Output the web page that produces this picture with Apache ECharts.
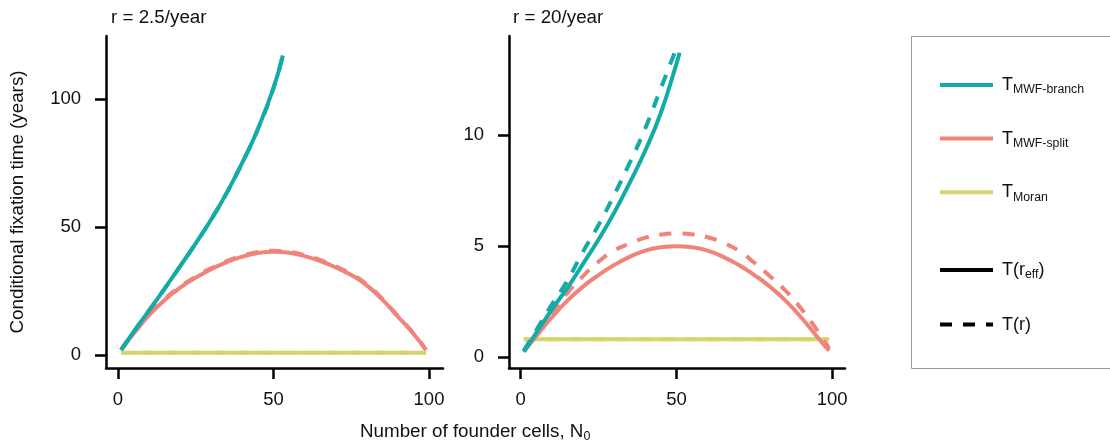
<!DOCTYPE html>
<html>
<head>
<meta charset="utf-8">
<script src="https://cdn.jsdelivr.net/npm/echarts@6/dist/echarts.min.js"></script>
<style>
  html, body { margin: 0; padding: 0; background: #fff; }
  #main { width: 1110px; height: 445px; }
</style>
</head>
<body>
<div id="main"></div>
<script>
// panel 1: r = 2.5/year
var nBranchSlow = [1, 5, 10, 15, 20, 25, 30, 35, 40, 45, 50, 53];
var branchSlowEff = [2, 9, 17.4, 25.9, 34.7, 43.6, 53, 63.4, 75.2, 88.3, 104.3, 117];
var branchSlowR = [2, 9, 17.4, 25.9, 34.7, 43.6, 53, 63.4, 75.2, 88.3, 104.3, 117];
var nSplit = [1, 5, 10, 15, 20, 25, 30, 35, 40, 45, 50, 55, 60, 65, 70, 75, 80, 85, 90, 95, 99];
var splitSlowEff = [2, 8.3, 15.5, 21.5, 26.3, 30.2, 33.5, 36.3, 38.4, 39.8, 40.3, 39.9, 38.6, 36.7, 34.2, 31.2, 27.2, 21.6, 15, 8.3, 2];
var splitSlowR = [2, 8.4, 15.8, 21.9, 26.7, 30.6, 33.9, 36.7, 38.8, 40.2, 40.7, 40.3, 39, 37.1, 34.6, 31.6, 27.6, 21.9, 15.2, 8.4, 2];
var nMoran = [1, 99];
var moranSlow = [0.9, 0.9];

// panel 2: r = 20/year
var nBranchFastEff = [1, 5, 10, 15, 20, 25, 30, 35, 40, 45, 50, 51];
var branchFastEff = [0.25, 1.1, 2.15, 3.12, 4.2, 5.3, 6.5, 7.85, 9.3, 11.0, 13.2, 13.7];
var nBranchFastR = [1, 5, 10, 15, 20, 25, 30, 35, 40, 45, 50];
var branchFastR = [0.3, 1.22, 2.37, 3.45, 4.75, 5.95, 7.3, 8.75, 10.3, 12.1, 13.9];
var splitFastEff = [0.25, 0.95, 1.8, 2.55, 3.18, 3.7, 4.15, 4.52, 4.8, 4.95, 5.0, 4.95, 4.8, 4.52, 4.15, 3.7, 3.18, 2.55, 1.8, 0.95, 0.3];
var splitFastR = [0.3, 1.0, 2.0, 2.9, 3.65, 4.3, 4.8, 5.12, 5.38, 5.52, 5.57, 5.53, 5.4, 5.15, 4.8, 4.25, 3.65, 3.0, 2.2, 1.25, 0.4];
var moranFast = [0.81, 0.81];

var xTicks = [0, 50, 100];
var yTicksSlow = [0, 50, 100];
var yTicksFast = [0, 5, 10];

var FONT = '"Liberation Sans", Arial, sans-serif';
var TEAL = '#13aba6', SALMON = '#f0847b', OLIVE = '#d5d56b';
var DASH = [12, 11];

function pairs(xs, ys) {
  return xs.map(function (x, i) { return [x, ys[i]]; });
}

function axis(gridIndex, min, max, ticks, margin) {
  return {
    type: 'value', gridIndex: gridIndex, min: min, max: max,
    axisLine: { show: true, onZero: false, lineStyle: { color: '#000', width: 2.5 } },
    axisTick: { show: true, length: 11, customValues: ticks, lineStyle: { color: '#000', width: 2.5 } },
    axisLabel: { customValues: ticks, margin: margin, fontSize: 18.5, color: '#111', fontFamily: FONT },
    splitLine: { show: false }
  };
}

function line(name, idx, data, color, dashed) {
  return {
    name: name, type: 'line', xAxisIndex: idx, yAxisIndex: idx,
    data: data, symbol: 'none', smooth: 0.5, silent: true,
    lineStyle: { color: color, width: 4, type: dashed ? DASH : 'solid' },
    itemStyle: { color: color }
  };
}

var labels = {
  branch: '{t|T}{s|MWF-branch}',
  split: '{t|T}{s|MWF-split}',
  moran: '{t|T}{s|Moran}',
  reff: '{t|T(r}{s|eff}{t|)}',
  r: '{t|T(r)}'
};
var legendRich = {
  t: { fontSize: 18, lineHeight: 22, color: '#111', fontFamily: FONT },
  s: { fontSize: 12.3, lineHeight: 12, verticalAlign: 'bottom', color: '#111', fontFamily: FONT }
};
var textFont = { fontSize: 18.8, fontWeight: 'normal', color: '#111', fontFamily: FONT };

var chart = echarts.init(document.getElementById('main'));
chart.setOption({
  animation: false,
  title: [
    { text: 'r = 2.5/year', left: 111, top: 8, padding: 0, textStyle: textFont },
    { text: 'r = 20/year', left: 513, top: 8, padding: 0, textStyle: textFont },
    { text: '{a|Number of founder cells, N}{b|0}', left: 360, top: 421, padding: 0,
      textStyle: { fontWeight: 'normal', rich: {
        a: { fontSize: 18.8, fontWeight: 'normal', lineHeight: 22, color: '#111', fontFamily: FONT },
        b: { fontSize: 12.5, fontWeight: 'normal', lineHeight: 12, verticalAlign: 'bottom', color: '#111', fontFamily: FONT }
      } } }
  ],
  grid: [
    { left: 106, top: 36, width: 337, height: 332 },
    { left: 509, top: 36, width: 336, height: 332 }
  ],
  xAxis: [
    axis(0, -3.86, 104.5, xTicks, 22),
    axis(1, -3.75, 104.1, xTicks, 22)
  ],
  yAxis: [
    Object.assign(axis(0, -5.1, 124.6, yTicksSlow, 25), {
      name: 'Conditional fixation time (years)', nameLocation: 'middle', nameGap: 79,
      nameTextStyle: { fontSize: 18.8, color: '#111', fontFamily: FONT }
    }),
    axis(1, -0.48, 14.45, yTicksFast, 25)
  ],
  legend: [
    { orient: 'vertical', left: 938, top: 76, padding: 0, itemWidth: 53, itemHeight: 2, itemGap: 33.6,
      selectedMode: false, data: ['branch', 'split', 'moran'],
      formatter: function (n) { return labels[n]; },
      lineStyle: { width: 4 }, textStyle: { padding: [0, 0, 0, 4], rich: legendRich } },
    { orient: 'vertical', left: 938, top: 261, padding: 0, itemWidth: 53, itemHeight: 2, itemGap: 34.6,
      selectedMode: false, data: ['reff', 'r'],
      formatter: function (n) { return labels[n]; },
      lineStyle: { width: 4 }, textStyle: { padding: [0, 0, 0, 4], rich: legendRich } }
  ],
  graphic: [
    { type: 'rect', shape: { x: 911.5, y: 36.5, width: 210, height: 332 },
      style: { fill: 'none', stroke: '#9a9a9a', lineWidth: 1 }, silent: true }
  ],
  series: [
    line('moran', 0, pairs(nMoran, moranSlow), OLIVE, false),
    line('moran', 0, pairs(nMoran, moranSlow), OLIVE, true),
    line('split', 0, pairs(nSplit, splitSlowEff), SALMON, false),
    line('split', 0, pairs(nSplit, splitSlowR), SALMON, true),
    line('branch', 0, pairs(nBranchSlow, branchSlowEff), TEAL, false),
    line('branch', 0, pairs(nBranchSlow, branchSlowR), TEAL, true),
    line('moran', 1, pairs(nMoran, moranFast), OLIVE, false),
    line('moran', 1, pairs(nMoran, moranFast), OLIVE, true),
    line('split', 1, pairs(nSplit, splitFastEff), SALMON, false),
    line('split', 1, pairs(nSplit, splitFastR), SALMON, true),
    line('branch', 1, pairs(nBranchFastEff, branchFastEff), TEAL, false),
    line('branch', 1, pairs(nBranchFastR, branchFastR), TEAL, true),
    line('reff', 0, [], '#000', false),
    line('r', 0, [], '#000', true)
  ]
});
</script>
</body>
</html>
